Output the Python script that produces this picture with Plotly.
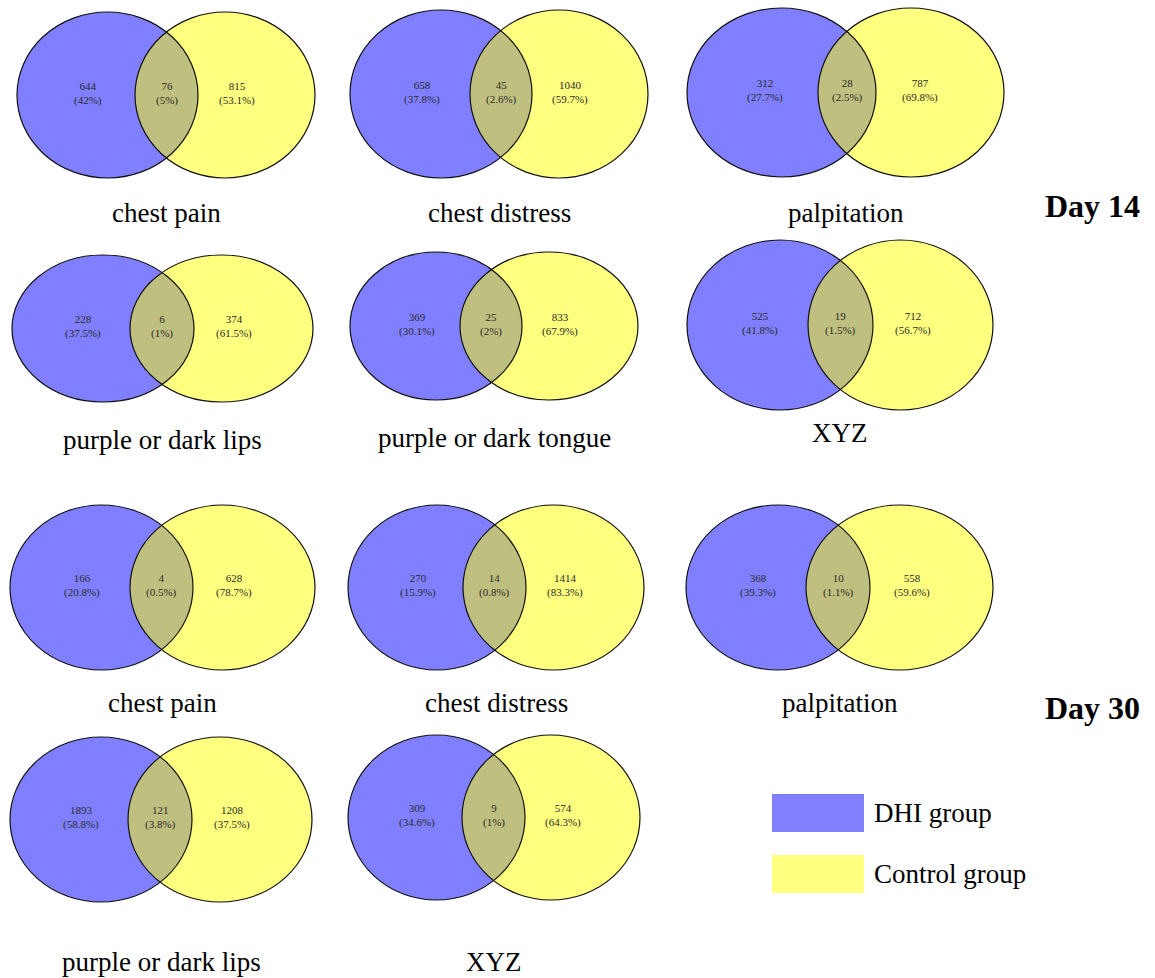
import plotly.graph_objects as go

# ---------------- data ----------------
titles = ["chest pain", "chest distress", "palpitation",
          "purple or dark lips", "purple or dark tongue", "XYZ",
          "chest pain", "chest distress", "palpitation",
          "purple or dark lips", "XYZ"]
dhi_only = [644, 658, 312, 228, 369, 525, 166, 270, 368, 1893, 309]
overlap = [76, 45, 28, 6, 25, 19, 4, 14, 10, 121, 9]
control_only = [815, 1040, 787, 374, 833, 712, 628, 1414, 558, 1208, 574]
dhi_pct = ["42%", "37.8%", "27.7%", "37.5%", "30.1%", "41.8%",
           "20.8%", "15.9%", "39.3%", "58.8%", "34.6%"]
overlap_pct = ["5%", "2.6%", "2.5%", "1%", "2%", "1.5%",
               "0.5%", "0.8%", "1.1%", "3.8%", "1%"]
control_pct = ["53.1%", "59.7%", "69.8%", "61.5%", "67.9%", "56.7%",
               "78.7%", "83.3%", "59.6%", "37.5%", "64.3%"]
day_labels = ["Day 14", "Day 30"]
legend_labels = ["DHI group", "Control group"]

# ---------------- layout geometry (pixels) ----------------
# (left edge, right edge, lens left, lens right, top, bottom, title y)
geom = [
    (17, 315, 135, 198, 12, 178, 213),
    (350, 648, 470, 532, 10, 178, 213),
    (687, 1004, 818, 876, 8, 177, 213),
    (12, 313, 130, 194, 255, 402, 440),
    (350, 638, 460, 522, 252, 400, 438),
    (687, 993, 808, 873, 240, 410, 433),
    (10, 315, 130, 193, 505, 670, 703),
    (348, 644, 463, 526, 505, 670, 703),
    (686, 993, 806, 870, 505, 670, 703),
    (10, 312, 128, 192, 737, 902, 962),
    (348, 640, 462, 525, 735, 900, 962),
]
day_pos = [(1092, 206), (1092, 708)]
legend_pos = [(772, 864, 794, 832), (772, 864, 855, 893)]

W, H = 1155, 978
SERIF = "Liberation Serif, Times New Roman, serif"
BLUE_FILL = "rgba(0,0,255,0.5)"
YELLOW_FILL = "rgba(255,255,0,0.5)"
NUM_COLOR = "#2a2a2a"

fig = go.Figure()
fig.add_trace(go.Scatter(x=[0, W], y=[0, H], mode="markers",
                         marker=dict(opacity=0), hoverinfo="skip",
                         showlegend=False))

shapes = []
annotations = []
for i, (xl, xr, ll, lr, top, bot, ty) in enumerate(geom):
    # blue ellipse spans [xl, lr]; yellow spans [ll, xr]
    shapes.append(dict(type="circle", xref="x", yref="y", x0=xl, x1=lr,
                       y0=top, y1=bot, fillcolor=BLUE_FILL,
                       line=dict(width=0), layer="above"))
    shapes.append(dict(type="circle", xref="x", yref="y", x0=ll, x1=xr,
                       y0=top, y1=bot, fillcolor=YELLOW_FILL,
                       line=dict(width=0), layer="above"))
    for (a, b) in [(xl, lr), (ll, xr)]:
        shapes.append(dict(type="circle", xref="x", yref="y", x0=a, x1=b,
                           y0=top, y1=bot, fillcolor="rgba(0,0,0,0)",
                           line=dict(color="#111111", width=1.2),
                           layer="above"))
    cy = (top + bot) / 2 - 2
    xs = [(xl + ll) / 2 + 12, (ll + lr) / 2, (lr + xr) / 2 - 20]
    texts = [f"{dhi_only[i]}<br>({dhi_pct[i]})",
             f"{overlap[i]}<br>({overlap_pct[i]})",
             f"{control_only[i]}<br>({control_pct[i]})"]
    for x, t in zip(xs, texts):
        annotations.append(dict(x=x, y=cy, xref="x", yref="y", text=t,
                                showarrow=False, xanchor="center",
                                yanchor="middle",
                                font=dict(family=SERIF, size=11,
                                          color=NUM_COLOR)))
    annotations.append(dict(x=(xl + xr) / 2, y=ty, xref="x", yref="y",
                            text=titles[i], showarrow=False,
                            xanchor="center", yanchor="middle",
                            font=dict(family=SERIF, size=27, color="#000")))

for (x, y), t in zip(day_pos, day_labels):
    annotations.append(dict(x=x, y=y, xref="x", yref="y",
                            text=f"<b>{t}</b>", showarrow=False,
                            xanchor="center", yanchor="middle",
                            font=dict(family=SERIF, size=32, color="#000")))

legend_colors = ["#8080FF", "#FFFF80"]
for (x0, x1, y0, y1), c, t in zip(legend_pos, legend_colors, legend_labels):
    shapes.append(dict(type="rect", xref="x", yref="y", x0=x0, x1=x1,
                       y0=y0, y1=y1, fillcolor=c, line=dict(width=0),
                       layer="above"))
    annotations.append(dict(x=x1 + 8, y=(y0 + y1) / 2, xref="x", yref="y",
                            text=t, showarrow=False, xanchor="left",
                            yanchor="middle",
                            font=dict(family=SERIF, size=27, color="#000")))

fig.update_layout(
    width=W, height=H,
    margin=dict(l=0, r=0, t=0, b=0),
    paper_bgcolor="white", plot_bgcolor="white",
    xaxis=dict(range=[0, W], visible=False, fixedrange=True),
    yaxis=dict(range=[H, 0], visible=False, fixedrange=True),
    shapes=shapes, annotations=annotations, showlegend=False,
)

fig.write_html("out.html", config={"displayModeBar": False})
